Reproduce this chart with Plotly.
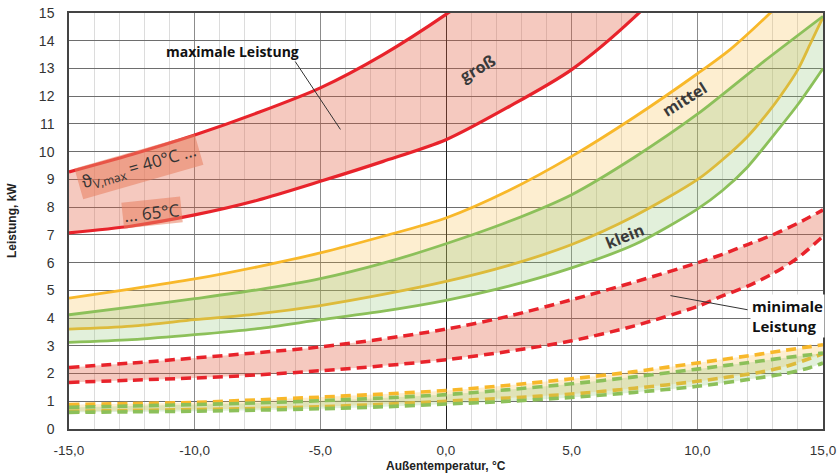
import plotly.graph_objects as go

# ---------------- data ----------------
# maximale Leistung, groß (upper = 40°C, lower = 65°C)
x_gross_hi = [-15, -12.5, -10, -7.5, -5, -2.5, 0, 2.5, 5, 7.5, 10]
gross_max_hi = [9.27, 9.9, 10.6, 11.4, 12.3, 13.5, 14.95, 16.6, 18.5, 20.7, 23.1]
x_gross_lo = [-15, -12.5, -10, -7.5, -5, -2.5, 0, 2.5, 5, 7.5, 10]
gross_max_lo = [7.07, 7.32, 7.72, 8.25, 8.93, 9.65, 10.43, 11.62, 12.96, 14.85, 17.2]

# maximale Leistung, mittel
x_mittel_hi = [-15, -12.5, -10, -7.5, -5, -2.5, 0, 2.5, 5, 7.5, 10, 11.3, 12.9, 14, 15]
mittel_max_hi = [4.72, 5.05, 5.41, 5.85, 6.35, 6.95, 7.61, 8.6, 9.83, 11.25, 12.81, 13.68, 15.0, 16.0, 17.0]
x_mittel_lo = [-15, -12.5, -10, -7.5, -5, -2.5, 0, 2.5, 5, 7.5, 10, 11, 12, 12.8, 13.3, 14, 14.5, 15]
mittel_max_lo = [3.6, 3.71, 3.94, 4.15, 4.45, 4.85, 5.32, 5.9, 6.65, 7.68, 8.99, 9.71, 10.55, 11.4, 12.0, 12.96, 13.9, 14.85]

# maximale Leistung, klein
x_klein_hi = [-15, -12.5, -10, -7.5, -5, -2.5, 0, 2.5, 5, 7.5, 10, 12.5, 15]
klein_max_hi = [4.12, 4.4, 4.7, 5.02, 5.42, 5.98, 6.68, 7.48, 8.45, 9.8, 11.35, 13.15, 14.88]
x_klein_lo = [-15, -12.5, -10, -7.5, -5, -2.5, 0, 2.5, 5, 7.5, 10, 11, 12, 13, 14, 15]
klein_max_lo = [3.12, 3.22, 3.4, 3.62, 3.94, 4.25, 4.64, 5.15, 5.81, 6.65, 7.93, 8.6, 9.45, 10.55, 11.7, 13.0]

# minimale Leistung, groß
x_min = [-15, -12.5, -10, -7.5, -5, -2.5, 0, 2.5, 5, 7.5, 10, 11, 12, 13, 14, 15]
gross_min_hi = [2.22, 2.38, 2.56, 2.75, 2.96, 3.25, 3.6, 4.07, 4.66, 5.3, 5.99, 6.3, 6.65, 7.0, 7.42, 7.9]
gross_min_lo = [1.68, 1.76, 1.84, 1.95, 2.1, 2.28, 2.5, 2.8, 3.18, 3.72, 4.42, 4.8, 5.15, 5.6, 6.17, 6.95]

# minimale Leistung, mittel / klein
x_low = [-15, -12.5, -10, -7.5, -5, -2.5, 0, 2.5, 5, 7.5, 10, 12.5, 13.5, 14.5, 15]
mittel_min_hi = [0.88, 0.92, 0.96, 1.05, 1.15, 1.26, 1.39, 1.58, 1.81, 2.07, 2.38, 2.7, 2.84, 2.97, 3.04]
mittel_min_lo = [0.64, 0.67, 0.7, 0.74, 0.8, 0.89, 1.0, 1.12, 1.26, 1.47, 1.72, 2.05, 2.25, 2.55, 2.72]
klein_min_hi = [0.78, 0.83, 0.88, 0.94, 1.02, 1.12, 1.24, 1.42, 1.63, 1.88, 2.16, 2.45, 2.57, 2.68, 2.74]
klein_min_lo = [0.6, 0.62, 0.64, 0.68, 0.73, 0.8, 0.9, 1.0, 1.14, 1.32, 1.54, 1.85, 2.0, 2.22, 2.38]

x_tickvals = [-15, -10, -5, 0, 5, 10, 15]
x_ticktext = ["-15,0", "-10,0", "-5,0", "0,0", "5,0", "10,0", "15,0"]
y_tickvals = list(range(0, 16))
y_ticktext = [str(v) for v in y_tickvals]

# ---------------- styles ----------------
RED = "#e8232b"
YEL = "#f8b82a"
GRN = "#8cc05a"
RED_FILL = "rgba(225,90,60,0.33)"
YEL_FILL = "rgba(245,185,60,0.24)"
GRN_FILL = "rgba(140,195,110,0.25)"

fig = go.Figure()


def band(xlo, ylo, xhi, yhi, color, fill, dash=None, width=3):
    line = dict(color=color, width=width, shape="spline", smoothing=0.8)
    if dash:
        line["dash"] = dash
    fig.add_trace(go.Scatter(x=xlo, y=ylo, mode="lines", line=line,
                             showlegend=False, hoverinfo="skip"))
    fig.add_trace(go.Scatter(x=xhi, y=yhi, mode="lines", line=line,
                             fill="tonexty", fillcolor=fill,
                             showlegend=False, hoverinfo="skip"))


band(x_gross_lo, gross_max_lo, x_gross_hi, gross_max_hi, RED, RED_FILL, width=3.2)
band(x_mittel_lo, mittel_max_lo, x_mittel_hi, mittel_max_hi, YEL, YEL_FILL, width=2.8)
band(x_klein_lo, klein_max_lo, x_klein_hi, klein_max_hi, GRN, GRN_FILL, width=2.8)
band(x_min, gross_min_lo, x_min, gross_min_hi, RED, RED_FILL, dash="10px,6px", width=3.5)
band(x_low, mittel_min_lo, x_low, mittel_min_hi, YEL, YEL_FILL, dash="10px,6px", width=3.6)
band(x_low, klein_min_lo, x_low, klein_min_hi, GRN, GRN_FILL, dash="10px,6px", width=3.6)

TXT = "#3a3a3a"
OS = "Open Sans, Arial, sans-serif"

annotations = [
    dict(x=-8.5, y=13.6, text="<b>maximale Leistung</b>", showarrow=False,
         font=dict(family=OS, size=14, color="#111")),
    dict(x=12.1, y=4.08, text="<b>minimale<br>Leistung</b>", showarrow=False,
         xanchor="left", align="left", font=dict(family=OS, size=15, color="#111"),
         bgcolor="white", borderpad=1),
    dict(x=1.28, y=13.0, text="<b>groß</b>", showarrow=False, textangle=-30,
         font=dict(family=OS, size=16, color=TXT)),
    dict(x=9.5, y=11.9, text="<b>mittel</b>", showarrow=False, textangle=-32,
         font=dict(family=OS, size=16, color=TXT)),
    dict(x=7.13, y=6.95, text="<b>klein</b>", showarrow=False, textangle=-22,
         font=dict(family=OS, size=16, color=TXT)),
    dict(x=-12.2, y=9.45, text="ϑ<sub>V,max</sub> = 40°C ...", showarrow=False, textangle=-16,
         font=dict(family=OS, size=17, color="#333"),
         bgcolor="rgba(232,125,95,0.55)", borderpad=3),
    dict(x=-11.7, y=7.82, text="... 65°C", showarrow=False, textangle=-6,
         font=dict(family=OS, size=17, color="#333"),
         bgcolor="rgba(232,125,95,0.55)", borderpad=1),
    # axis titles
    dict(x=0.5, y=0, xref="paper", yref="paper", yshift=-37, yanchor="middle",
         text="<b>Außentemperatur, °C</b>", showarrow=False,
         font=dict(family="Liberation Sans, Arial, sans-serif", size=12, color="#222")),
    dict(x=0, y=0.5, xref="paper", yref="paper", xshift=-57, xanchor="center",
         text="<b>Leistung, kW</b>", showarrow=False, textangle=-90,
         font=dict(family="Liberation Sans, Arial, sans-serif", size=12, color="#222")),
]

shapes = [
    dict(type="line", x0=-6.0, y0=13.25, x1=-4.2, y1=10.8, line=dict(color="#333", width=1)),
    dict(type="line", x0=8.93, y0=4.81, x1=12.0, y1=4.3, line=dict(color="#333", width=1)),
]

fig.update_layout(
    width=837, height=474,
    margin=dict(l=69, r=14, t=13, b=45, autoexpand=False),
    plot_bgcolor="white", paper_bgcolor="white",
    annotations=annotations, shapes=shapes,
    font=dict(family="Liberation Sans, Arial, sans-serif", size=13, color="#333"),
    xaxis=dict(
        range=[-15, 15], tickvals=x_tickvals, ticktext=x_ticktext,
        showgrid=True, gridcolor="#8c8c8c", gridwidth=1.3,
        minor=dict(dtick=1, showgrid=True, gridcolor="#dcdcdc", gridwidth=1.3, ticks=""),
        zeroline=True, zerolinecolor="#222", zerolinewidth=1.2,
        showline=True, linecolor="#444", linewidth=1.5, mirror=True,
        ticks="", ticklabelstandoff=8, automargin=False,
        tickfont=dict(size=13.5, color="#333"),
    ),
    yaxis=dict(
        range=[0, 15], tickvals=y_tickvals, ticktext=y_ticktext,
        showgrid=True, gridcolor="#6e6e6e", gridwidth=1,
        zeroline=False,
        showline=True, linecolor="#444", linewidth=1.5, mirror=True,
        ticks="", ticklabelstandoff=10, automargin=False,
        tickfont=dict(size=14, color="#333"),
    ),
)

fig.write_html("out.html")
